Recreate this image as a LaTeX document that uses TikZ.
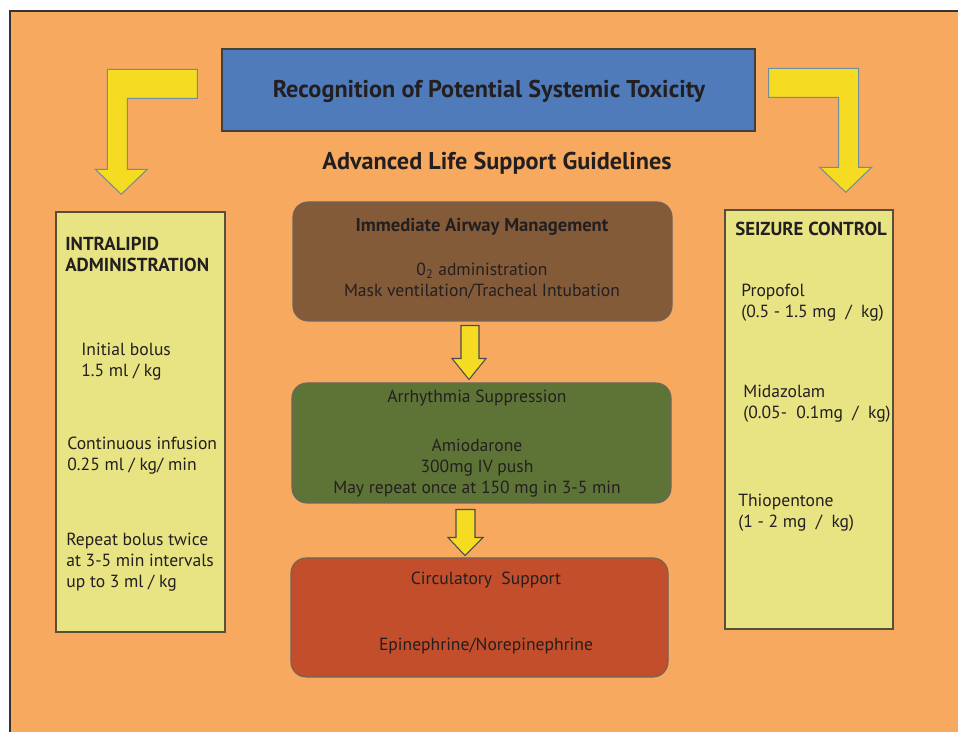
\documentclass[tikz,border=0pt]{standalone}
\usepackage{fontspec}
\setmainfont{PT Sans}
\usetikzlibrary{calc,fit}
\definecolor{bgorange}{RGB}{247,169,96}
\definecolor{titleblue}{RGB}{79,123,187}
\definecolor{paleyellow}{RGB}{232,227,131}
\definecolor{arrowyellow}{RGB}{245,220,34}
\definecolor{arrowedge}{RGB}{110,143,160}
\definecolor{boxedge}{RGB}{85,80,55}
\definecolor{roundedge}{RGB}{110,100,90}
\definecolor{airbrown}{RGB}{132,91,56}
\definecolor{rhythmgreen}{RGB}{94,116,55}
\definecolor{circred}{RGB}{194,78,43}
\definecolor{inkdark}{RGB}{35,31,32}

\begin{document}
\begin{tikzpicture}[x=0.02cm,y=-0.02cm]

\tikzset{txt/.style={inner sep=0pt,text=inkdark,font=\fontsize{10}{12.1}\selectfont,align=left},
ctxt/.style={txt,align=center},
headtxt/.style={inner sep=0pt,text=inkdark,font=\bfseries\fontsize{13.8}{16}\selectfont},
sidehead/.style={txt,font=\bfseries\fontsize{10.7}{12}\selectfont},
sidebox/.style={draw=boxedge,line width=0.8pt,fill=paleyellow,inner sep=0pt},
stepbox/.style={draw=roundedge,line width=0.6pt,rounded corners=0.3cm,inner sep=0pt},
bigarrow/.style={fill=arrowyellow,draw=arrowedge,line width=0.6pt},
smallarrow/.style={fill=arrowyellow,draw=black!70,line width=0.6pt}}

% Background
\useasboundingbox (0,0) rectangle (958,732);
\fill[bgorange] (10,11) rectangle (958,732);
\draw[line width=0.8pt,black!80] (10,732) -- (10,11) -- (958,11);

% Title
\node[fit={(222,49) (755,131)},draw=black!75,line width=0.8pt,fill=titleblue,inner sep=0pt] (recog) {};
\node[headtxt,anchor=base] (recogT) at (489,98) {Recognition of Potential Systemic Toxicity};
\node[headtxt,anchor=base] (alsT) at (497,170) {Advanced Life Support Guidelines};

% Side boxes
\node[sidebox,fit={(56,212) (225,632)}] (lipid) {};
\node[sidebox,fit={(725,210) (893,629)}] (seizure) {};

% Centre steps
\node[stepbox,fill=airbrown,fit={(293,202) (672,321)}] (airway) {};
\node[stepbox,fill=rhythmgreen,fit={(292,383) (671,503)}] (rhythm) {};
\node[stepbox,fill=circred,fit={(291,558) (668,677)}] (circ) {};

% Big L arrows
\draw[bigarrow] ($(recog.north west)+(-24,21)$) -- ++(-90,0) -- ++(0,100) -- ++(-12,0) -- ++(26,25) -- ++(26,-25) -- ++(-20,0) -- ++(0,-71) -- ++(70,0) -- cycle;
\draw[bigarrow] ($(recog.north east)+(13,20)$) -- ++(90,0) -- ++(0,99) -- ++(13,0) -- ++(-26,25) -- ++(-26,-25) -- ++(19,0) -- ++(0,-70) -- ++(-70,0) -- cycle;

% Small arrows
\draw[smallarrow] ($(airway.south)+(-21.5,4)$) -- ++(18,0) -- ++(0,33) -- ++(7,0) -- ++(-17,21) -- ++(-17,-21) -- ++(9,0) -- cycle;
\draw[smallarrow] ($(rhythm.south)+(-25.5,6)$) -- ++(19,0) -- ++(0,28) -- ++(8,0) -- ++(-18,18) -- ++(-17,-18) -- ++(8,0) -- cycle;

% Left box text (base = last line)
\node[sidehead,anchor=base west] (lipidT) at (65,272) {INTRALIPID\\ADMINISTRATION};
\node[txt,anchor=base west] (bolus) at (81,377) {Initial bolus\\1.5 ml / kg};
\node[txt,anchor=base west] (infusion) at (67,471) {Continuous infusion\\0.25 ml / kg/ min};
\node[txt,anchor=base west] (repeat) at (66,588) {Repeat bolus twice\\at 3-5 min intervals\\up to 3 ml / kg};

% Right box text
\node[sidehead,anchor=base west] (seizureT) at (735,236) {SEIZURE CONTROL};
\node[txt,anchor=base west] (propofol) at (741,318) {Propofol\\(0.5 - 1.5 mg \ / \ kg)};
\node[txt,anchor=base west] (midaz) at (743,419) {Midazolam\\(0.05- \ 0.1mg \ / \ kg)};
\node[txt,anchor=base west] (thio) at (738,528) {Thiopentone\\(1 - 2 mg \ / \ kg)};

% Centre text
\node[ctxt,anchor=base,font=\bfseries\fontsize{10.6}{12}\selectfont] (airwayT) at (482,232) {Immediate Airway Management};
\node[ctxt,anchor=base] (oxygen) at (482,297) {0\textsubscript{2} administration\\Mask ventilation/Tracheal Intubation};
\node[ctxt,anchor=base] (rhythmT) at (477,403) {Arrhythmia Suppression};
\node[ctxt,anchor=base] (amio) at (477,494) {Amiodarone\\300mg IV push\\May repeat once at 150 mg in 3-5 min};
\node[ctxt,anchor=base] (circT) at (486,585) {Circulatory \ Support};
\node[ctxt,anchor=base] (epi) at (486,651) {Epinephrine/Norepinephrine};

\end{tikzpicture}
\end{document}
